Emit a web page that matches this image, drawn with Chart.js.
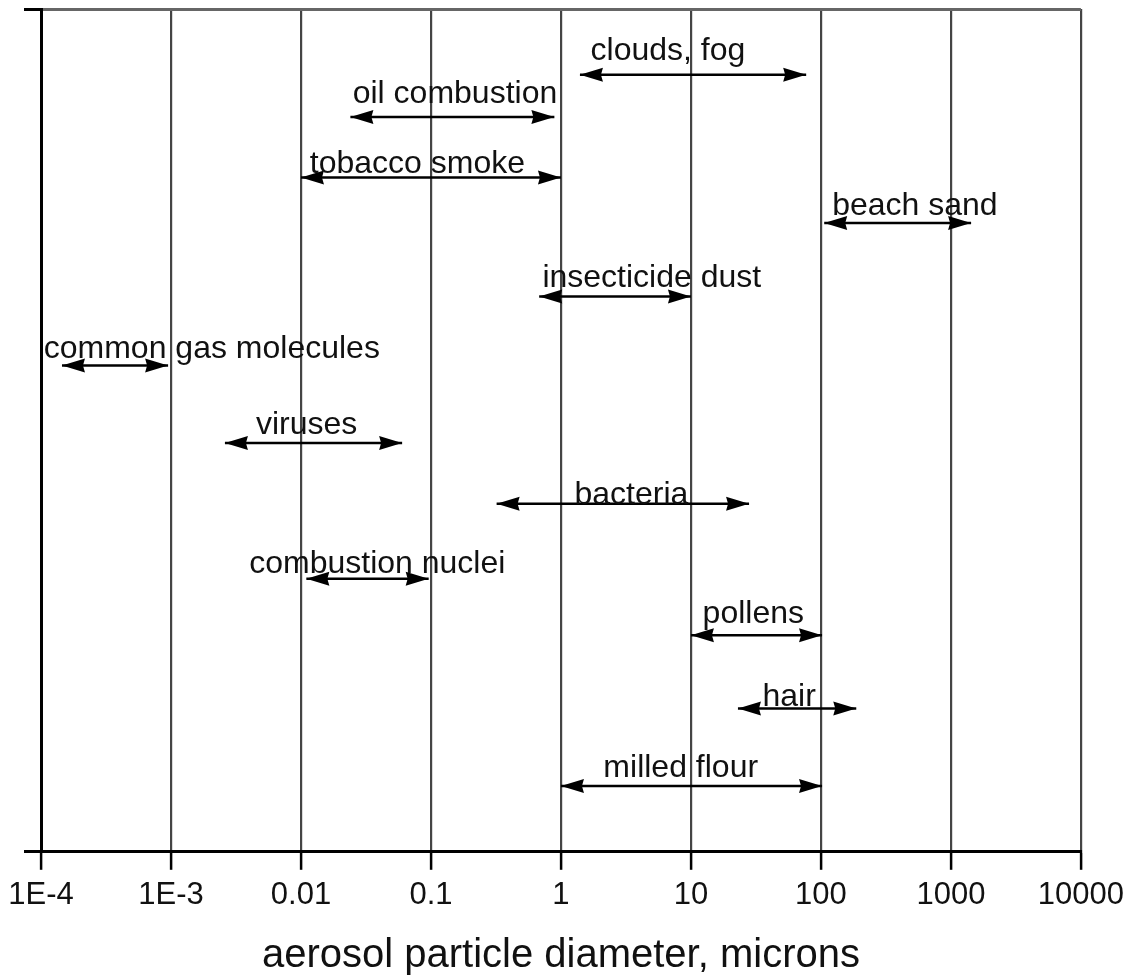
<!DOCTYPE html>
<html>
<head>
<meta charset="utf-8">
<script src="https://cdn.jsdelivr.net/npm/chart.js@4.4.1/dist/chart.umd.min.js"></script>
<style>
html, body { margin: 0; padding: 0; background: #fff; }
</style>
</head>
<body>
<canvas id="ChartElem" width="1131" height="976"></canvas>
<script>
// particle size ranges, microns
var names = ["clouds, fog", "oil combustion", "tobacco smoke", "beach sand", "insecticide dust",
    "common gas molecules", "viruses", "bacteria", "combustion nuclei", "pollens", "hair", "milled flour"];
var lowEnd = [1.4, 0.024, 0.01, 106, 0.68, 1.45e-4, 0.0026, 0.32, 0.011, 10, 23, 1];
var highEnd = [77, 0.89, 1, 1430, 10, 9.5e-4, 0.06, 28, 0.096, 102, 187, 102];
// vertical level of each arrow (0 = bottom axis, 100 = top)
var rowLevel = [92.2, 87.2, 80.0, 74.6, 65.9, 57.7, 48.5, 41.3, 32.4, 25.7, 17.0, 7.8];
// where each label starts (microns) and its baseline level
var labelStart = [1.69, 0.025, 0.0117, 122, 0.72, 1.05e-4, 0.0045, 1.27, 0.004, 12.3, 35.5, 2.12];
var labelLevel = [93.9, 88.8, 80.5, 75.5, 67.0, 58.6, 49.6, 41.3, 33.1, 27.2, 17.3, 8.9];

var decades = [1e-4, 1e-3, 0.01, 0.1, 1, 10, 100, 1000, 10000];
var tickLabels = ["1E-4", "1E-3", "0.01", "0.1", "1", "10", "100", "1000", "10000"];

var fontName = '"Liberation Sans", Arial, sans-serif';
Chart.defaults.font.family = fontName;
Chart.defaults.color = "#111";

function DrawHead(ctx, x, y, dir) {
    ctx.beginPath();
    ctx.moveTo(x, y);
    ctx.lineTo(x + dir * 23, y - 7);
    ctx.lineTo(x + dir * 21, y);
    ctx.lineTo(x + dir * 23, y + 7);
    ctx.closePath();
    ctx.fill();
}

var arrowPlugin = {
    id: "arrowPlugin",
    afterDatasetsDraw: function (chart) {
        var ctx = chart.ctx;
        var xs = chart.scales.x, ys = chart.scales.y;
        ctx.save();
        ctx.font = "32px " + fontName;
        ctx.textAlign = "left";
        ctx.textBaseline = "alphabetic";
        for (let i = 0; i < names.length; i++) {
            var pts = chart.getDatasetMeta(i).data;
            ctx.fillStyle = "#000";
            DrawHead(ctx, pts[0].x, pts[0].y, 1);
            DrawHead(ctx, pts[1].x, pts[1].y, -1);
            ctx.fillStyle = "#111";
            ctx.fillText(names[i], xs.getPixelForValue(labelStart[i]), ys.getPixelForValue(labelLevel[i]));
        }
        ctx.restore();
    }
};

var datasets = [];
for (let i = 0; i < names.length; i++) {
    datasets.push({
        label: names[i],
        data: [{ x: lowEnd[i], y: rowLevel[i] }, { x: highEnd[i], y: rowLevel[i] }],
        showLine: true,
        borderColor: "#000",
        borderWidth: 2.5,
        pointRadius: 0
    });
}

var chart = new Chart(document.getElementById("ChartElem").getContext("2d"), {
    type: "scatter",
    data: { datasets: datasets },
    options: {
        responsive: false,
        animation: false,
        layout: { padding: { left: 24, top: 9, right: 49, bottom: 0 } },
        plugins: { legend: { display: false }, tooltip: { enabled: false } },
        scales: {
            x: {
                type: "logarithmic",
                min: 1e-4,
                max: 1e4,
                afterBuildTicks: function (scale) {
                    scale.ticks = decades.map(function (v) { return { value: v }; });
                },
                grid: { color: "#444", lineWidth: 2.2, tickLength: 18, tickColor: "#000", tickWidth: 2.5 },
                border: { color: "#000", width: 3 },
                ticks: {
                    autoSkip: false, maxRotation: 0, padding: 7,
                    font: { size: 31, lineHeight: 1.2 },
                    callback: function (v, i) { return tickLabels[i]; }
                },
                title: {
                    display: true, text: "aerosol particle diameter, microns",
                    font: { size: 40, lineHeight: 1 }, padding: { top: 15, bottom: 0 }
                }
            },
            y: {
                min: 0,
                max: 100,
                afterBuildTicks: function (scale) {
                    scale.ticks = [{ value: 0 }, { value: 100 }];
                },
                grid: {
                    color: function (c) { return c.tick && c.tick.value === 0 ? "#000" : "#666"; },
                    lineWidth: 3, tickLength: 17, tickColor: "#000", tickWidth: 3
                },
                border: { color: "#000", width: 3 },
                ticks: { display: false }
            }
        }
    },
    plugins: [arrowPlugin]
});
</script>
</body>
</html>
